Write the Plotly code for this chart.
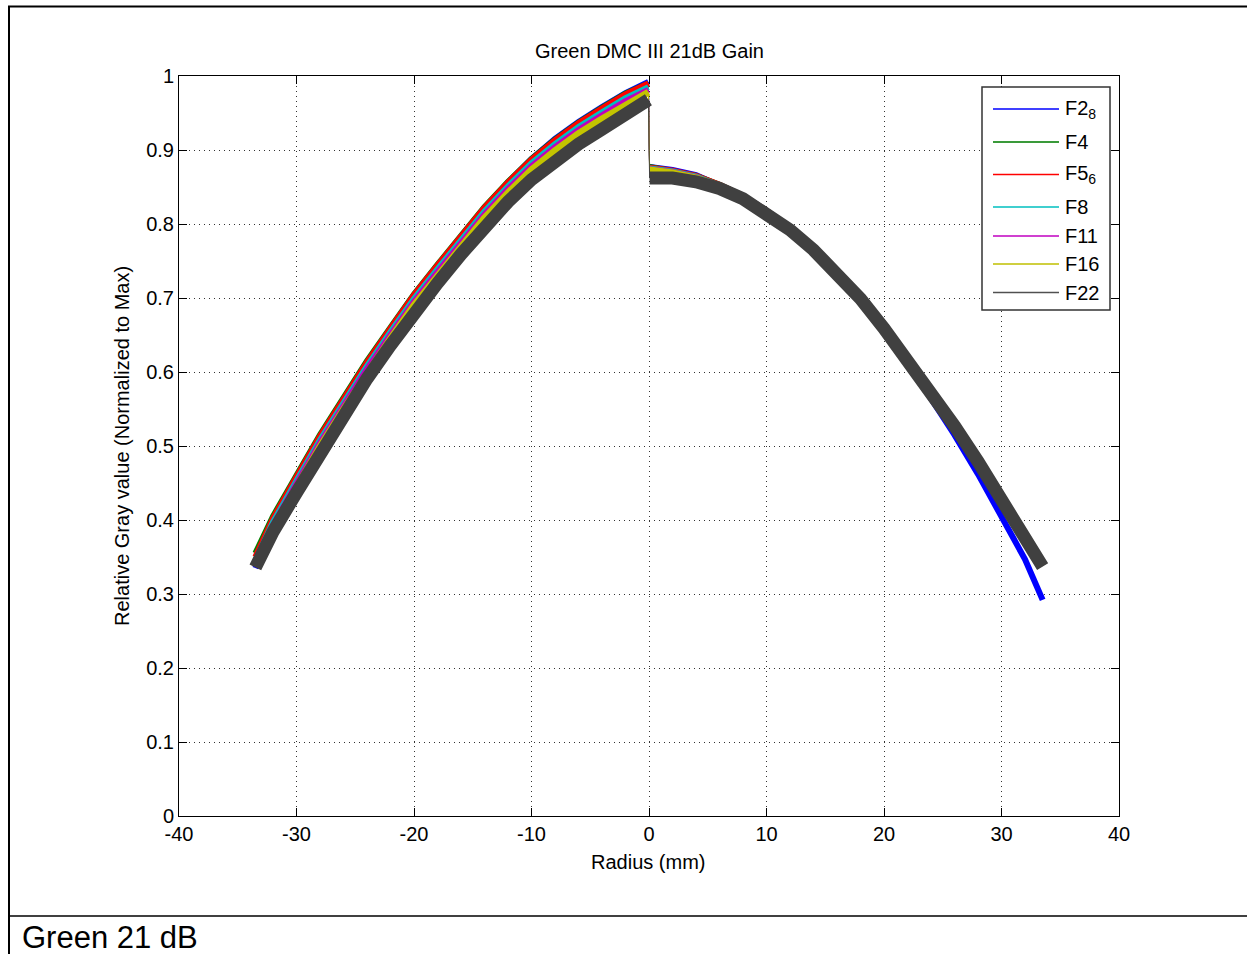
import plotly.graph_objects as go

# ---------------- data ----------------
x_left = [-33.5, -32, -30, -28, -26, -24, -22, -20, -18, -16, -14, -12, -10, -8, -6, -4, -2, -0.05]
x_right = [0.05, 2, 4, 6, 8, 10, 12, 14, 16, 18, 20, 22, 24, 26, 28, 30, 32, 33.5]

series_names = ["F2<sub>8</sub>", "F4", "F5<sub>6</sub>", "F8", "F11", "F16", "F22"]

f28_left = [0.335, 0.400, 0.457, 0.512, 0.562, 0.612, 0.657, 0.702, 0.743, 0.783, 0.821, 0.856, 0.888, 0.915, 0.938, 0.958, 0.977, 0.992]
f4_left = [0.355, 0.405, 0.460, 0.515, 0.565, 0.615, 0.660, 0.705, 0.745, 0.785, 0.823, 0.857, 0.888, 0.914, 0.937, 0.957, 0.976, 0.990]
f56_left = [0.350, 0.402, 0.458, 0.513, 0.563, 0.613, 0.659, 0.704, 0.744, 0.784, 0.822, 0.856, 0.887, 0.913, 0.936, 0.956, 0.975, 0.990]
f8_left = [0.345, 0.397, 0.453, 0.508, 0.558, 0.608, 0.654, 0.699, 0.739, 0.779, 0.817, 0.851, 0.882, 0.908, 0.931, 0.951, 0.970, 0.985]
f11_left = [0.342, 0.393, 0.449, 0.504, 0.554, 0.604, 0.650, 0.695, 0.735, 0.775, 0.813, 0.847, 0.878, 0.904, 0.927, 0.947, 0.966, 0.981]
f16_left = [0.338, 0.388, 0.444, 0.499, 0.549, 0.599, 0.645, 0.690, 0.730, 0.770, 0.808, 0.842, 0.873, 0.899, 0.922, 0.942, 0.961, 0.978]
f22_left = [0.336, 0.384, 0.437, 0.491, 0.541, 0.591, 0.636, 0.680, 0.720, 0.759, 0.796, 0.830, 0.860, 0.885, 0.908, 0.928, 0.948, 0.968]

f28_right = [0.877, 0.873, 0.866, 0.853, 0.838, 0.818, 0.795, 0.768, 0.737, 0.702, 0.660, 0.613, 0.565, 0.515, 0.462, 0.406, 0.347, 0.292]
f4_right = [0.877, 0.872, 0.865, 0.853, 0.838, 0.818, 0.795, 0.768, 0.737, 0.702, 0.662, 0.620, 0.576, 0.530, 0.482, 0.432, 0.380, 0.340]
f56_right = [0.876, 0.872, 0.865, 0.853, 0.838, 0.818, 0.795, 0.768, 0.737, 0.702, 0.662, 0.620, 0.576, 0.530, 0.482, 0.432, 0.380, 0.340]
f8_right = [0.875, 0.871, 0.864, 0.852, 0.837, 0.817, 0.794, 0.767, 0.736, 0.701, 0.661, 0.619, 0.575, 0.529, 0.481, 0.431, 0.379, 0.339]
f11_right = [0.874, 0.870, 0.863, 0.851, 0.837, 0.817, 0.794, 0.767, 0.736, 0.701, 0.661, 0.619, 0.575, 0.529, 0.481, 0.431, 0.379, 0.339]
f16_right = [0.873, 0.869, 0.862, 0.851, 0.836, 0.816, 0.793, 0.766, 0.735, 0.700, 0.660, 0.618, 0.574, 0.528, 0.480, 0.430, 0.378, 0.338]
f22_right = [0.862, 0.862, 0.857, 0.848, 0.834, 0.815, 0.792, 0.765, 0.734, 0.699, 0.659, 0.617, 0.573, 0.527, 0.479, 0.429, 0.377, 0.337]

left_values = [f28_left, f4_left, f56_left, f8_left, f11_left, f16_left, f22_left]
right_values = [f28_right, f4_right, f56_right, f8_right, f11_right, f16_right, f22_right]

x_ticks = [-40, -30, -20, -10, 0, 10, 20, 30, 40]
y_ticks = [0, 0.1, 0.2, 0.3, 0.4, 0.5, 0.6, 0.7, 0.8, 0.9, 1]
y_tick_text = ["0", "0.1", "0.2", "0.3", "0.4", "0.5", "0.6", "0.7", "0.8", "0.9", "1"]

# ---------------- styles ----------------
colors = ["#0000FF", "#008000", "#FF0000", "#00BFBF", "#BF00BF", "#C4C400", "#404040"]
legend_colors = ["#0000FF", "#3a9a3a", "#FF0000", "#00BFBF", "#D040D0", "#BFBF00", "#505050"]
band_widths = [6, 6, 6, 6, 6, 7, 13]
FONT = "Liberation Sans, Arial, sans-serif"

W, H = 1247, 954
L, R, T, B = 179, 1119, 76, 816  # plot area in pixels


def px(x):
    return (x - L) / (R - L)


def py(y):
    return (B - y) / (B - T)


fig = go.Figure()
for i, name in enumerate(series_names):
    fig.add_trace(go.Scatter(x=x_left, y=left_values[i], mode="lines",
                             line=dict(color=colors[i], width=band_widths[i]),
                             name=name, showlegend=False, hoverinfo="skip"))
    fig.add_trace(go.Scatter(x=x_right, y=right_values[i], mode="lines",
                             line=dict(color=colors[i], width=band_widths[i]),
                             name=name, showlegend=False, hoverinfo="skip"))
    fig.add_trace(go.Scatter(x=[x_left[-1], x_right[0]], y=[left_values[i][-1], right_values[i][0]],
                             mode="lines", line=dict(color=colors[i], width=1),
                             name=name, showlegend=False, hoverinfo="skip"))

shapes = []
annotations = []

# outer frame lines
shapes.append(dict(type="line", xref="paper", yref="paper", x0=px(8), x1=px(1247), y0=py(6.5), y1=py(6.5),
                   line=dict(color="black", width=2)))
shapes.append(dict(type="line", xref="paper", yref="paper", x0=px(9), x1=px(9), y0=py(6), y1=py(954),
                   line=dict(color="black", width=2)))
shapes.append(dict(type="line", xref="paper", yref="paper", x0=px(8), x1=px(1247), y0=py(916), y1=py(916),
                   line=dict(color="black", width=1.3)))

# legend box
lg_x0, lg_x1, lg_y0, lg_y1 = 982, 1110, 87, 310
shapes.append(dict(type="rect", xref="paper", yref="paper", x0=px(lg_x0), x1=px(lg_x1), y0=py(lg_y1), y1=py(lg_y0),
                   line=dict(color="#333333", width=1.5), fillcolor="white", layer="above"))
legend_rows = [109, 142, 174.5, 207, 236, 264, 292.5]
for i, name in enumerate(series_names):
    yy = legend_rows[i]
    shapes.append(dict(type="line", xref="paper", yref="paper", x0=px(993), x1=px(1059), y0=py(yy), y1=py(yy),
                       line=dict(color=legend_colors[i], width=1.3 if i not in (1, 4) else 2), layer="above"))
    annotations.append(dict(xref="paper", yref="paper", x=px(1063), y=py(yy), text=name, showarrow=False,
                            xanchor="left", yanchor="middle", font=dict(family=FONT, size=20, color="black")))

# title
annotations.append(dict(xref="paper", yref="paper", x=px(649), y=py(51), text="Green DMC III 21dB Gain",
                        showarrow=False, xanchor="center", yanchor="middle",
                        font=dict(family=FONT, size=20, color="black")))
# axis titles
annotations.append(dict(xref="paper", yref="paper", x=px(648), y=py(862), text="Radius (mm)",
                        showarrow=False, xanchor="center", yanchor="middle",
                        font=dict(family=FONT, size=20, color="black")))
annotations.append(dict(xref="paper", yref="paper", x=px(122), y=py(446), text="Relative Gray value (Normalized to Max)",
                        showarrow=False, xanchor="center", yanchor="middle", textangle=-90,
                        font=dict(family=FONT, size=20, color="black")))
# caption
annotations.append(dict(xref="paper", yref="paper", x=px(20), y=py(937), text="Green 21 dB",
                        showarrow=False, xanchor="left", yanchor="middle",
                        font=dict(family=FONT, size=31, color="black")))

axis_common = dict(showline=True, linecolor="black", linewidth=1, mirror="ticks", ticks="inside",
                   ticklen=8, tickcolor="black", showgrid=True, gridcolor="#333333", griddash="1px,4px",
                   gridwidth=1, zeroline=False, tickfont=dict(family=FONT, size=20, color="black"))

fig.update_layout(
    width=W, height=H,
    margin=dict(l=L, r=W - R, t=T, b=H - B, pad=0),
    paper_bgcolor="white", plot_bgcolor="white",
    showlegend=False,
    xaxis=dict(range=[-40, 40], tickvals=x_ticks, ticktext=[str(v) for v in x_ticks], **axis_common),
    yaxis=dict(range=[0, 1], tickvals=y_ticks, ticktext=y_tick_text, **axis_common),
    shapes=shapes, annotations=annotations,
)

fig.write_html("out.html", config={"displayModeBar": False},
               post_script="document.body.style.margin='0';document.body.style.overflow='hidden';")
